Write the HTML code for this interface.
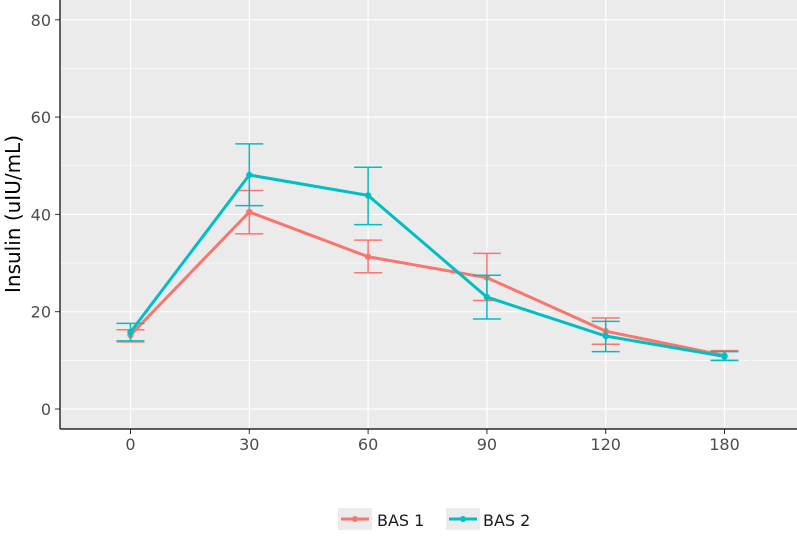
<!DOCTYPE html>
<html><head><meta charset="utf-8"><style>
body{margin:0;background:#fff;font-family:"DejaVu Sans","Liberation Sans",sans-serif;}
svg text{font-family:"DejaVu Sans","Liberation Sans",sans-serif;}
</style></head><body>
<svg id="chart" width="797" height="534" xmlns="http://www.w3.org/2000/svg">
<rect x="60" y="0" width="737" height="429" fill="#ebebeb"/>
<g id="grid"></g><g id="series"></g><g id="axes"></g>
<text transform="translate(20,214) rotate(-90)" text-anchor="middle" font-size="20" fill="#000">Insulin (uIU/mL)</text>
<g>
<g><rect x="338" y="508" width="34" height="22" fill="#ebebeb"/><line x1="341" y1="519" x2="369" y2="519" stroke="#F8766D" stroke-width="3"/><circle cx="355" cy="519" r="3" fill="#F8766D"/><text x="377" y="526" font-size="16" fill="#1a1a1a">BAS 1</text></g>
<g><rect x="446" y="508" width="34" height="22" fill="#ebebeb"/><line x1="449" y1="519" x2="477" y2="519" stroke="#00BFC4" stroke-width="3"/><circle cx="463" cy="519" r="3" fill="#00BFC4"/><text x="483" y="526" font-size="16" fill="#1a1a1a">BAS 2</text></g>
</g>
</svg>
<script>
const categories=["0","30","60","90","120","180"];
const bas1=[15.2,40.5,31.3,27,16,11];
const bas1Lo=[13.8,36,28,22.3,13.3,10];
const bas1Hi=[16.3,44.9,34.7,32,18.7,12];
const bas2=[15.8,48.1,43.9,23,15,10.8];
const bas2Lo=[14,41.8,37.9,18.5,11.8,10];
const bas2Hi=[17.6,54.5,49.7,27.5,18,11.8];
const yTicks=[0,20,40,60,80];
const NS="http://www.w3.org/2000/svg";
const x=i=>130.5+i*118.8;
const y=v=>409-v*4.865;
function mk(p,t,a){const e=document.createElementNS(NS,t);for(const k in a)e.setAttribute(k,a[k]);p.appendChild(e);return e;}
const grid=document.getElementById('grid'),ser=document.getElementById('series'),axes=document.getElementById('axes');
for(let k=0;k<yTicks.length-1;k++){const m=(yTicks[k]+yTicks[k+1])/2;const l=mk(grid,'line',{x1:60,x2:797,y1:y(m),y2:y(m),stroke:'#fff','stroke-width':0.6});

}
yTicks.forEach(t=>{const l=mk(grid,'line',{x1:60,x2:797,y1:y(t),y2:y(t),stroke:'#fff','stroke-width':1.2});


const tk=mk(axes,'line',{x1:55,x2:60,y1:y(t),y2:y(t),stroke:'#333'});


const tx=mk(axes,'text',{x:51,y:y(t)+6,'text-anchor':'end','font-size':16,fill:'#4d4d4d'});tx.textContent=t;

});
categories.forEach((c,i)=>{const l=mk(grid,'line',{x1:x(i),x2:x(i),y1:0,y2:429,stroke:'#fff','stroke-width':1.2});


const tk=mk(axes,'line',{x1:x(i),x2:x(i),y1:429,y2:434,stroke:'#333'});


const tx=mk(axes,'text',{x:x(i),y:450,'text-anchor':'middle','font-size':16,fill:'#4d4d4d'});tx.textContent=c;

});
const a1=mk(axes,'line',{x1:60,x2:60,y1:0,y2:429,stroke:'#000','stroke-width':1.2});


const a2=mk(axes,'line',{x1:60,x2:797,y1:429,y2:429,stroke:'#000','stroke-width':1.2});


function draw(vals,lo,hi,col,name){
 vals.forEach((v,i)=>{const g=mk(ser,'path',{d:`M${x(i)-14},${y(hi[i])}H${x(i)+14}M${x(i)},${y(hi[i])}V${y(lo[i])}M${x(i)-14},${y(lo[i])}H${x(i)+14}`,stroke:col,'stroke-width':1.5,fill:'none'});
 
 });
 const p=mk(ser,'polyline',{points:vals.map((v,i)=>x(i)+','+y(v)).join(' '),stroke:col,'stroke-width':3,fill:'none'});
 
 
 vals.forEach((v,i)=>{const c=mk(ser,'circle',{cx:x(i),cy:y(v),r:3.2,fill:col});
 
 });
}
draw(bas1,bas1Lo,bas1Hi,'#F8766D','bas1');
draw(bas2,bas2Lo,bas2Hi,'#00BFC4','bas2');
</script>
</body></html>
